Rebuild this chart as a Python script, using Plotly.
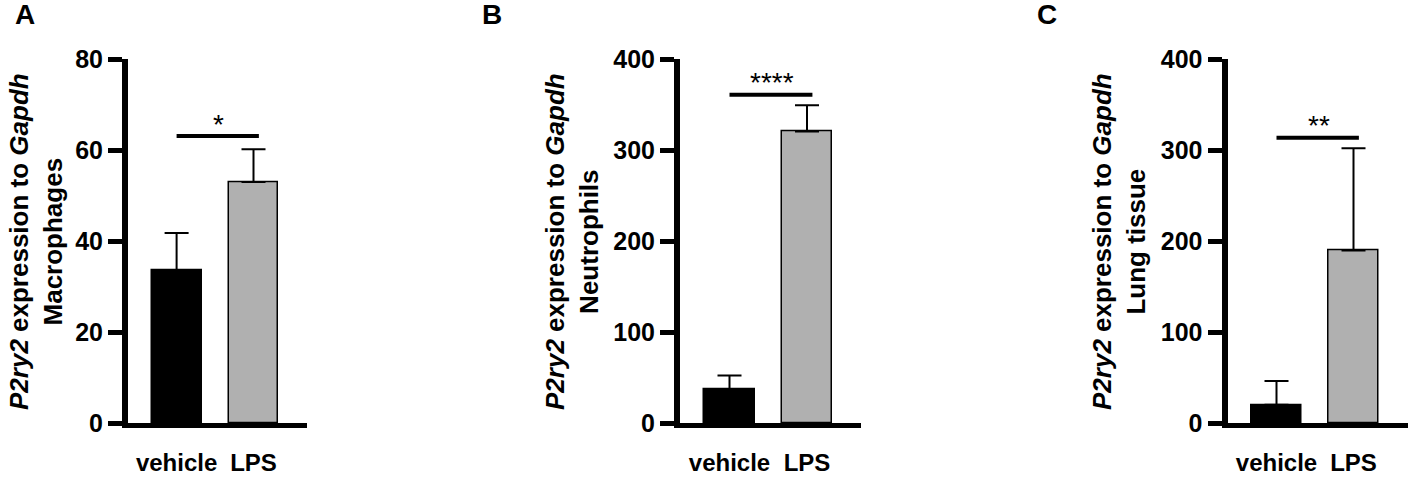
import plotly.graph_objects as go

W, H = 1417, 478

groups = ["vehicle", "LPS"]
panels = ["A", "B", "C"]
cell_types = ["Macrophages", "Neutrophils", "Lung tissue"]

mean_a = [33.5, 53.0]
err_a = [8.3, 7.2]
mean_b = [37.5, 320.5]
err_b = [14.7, 29.0]
mean_c = [20.0, 189.6]
err_c = [26.3, 112.4]

sig_level = [63.1, 361.0, 313.6]
sig_stars = ["*", "****", "**"]
y_max = [80, 400, 400]
y_dtick = [20, 100, 100]

means = [mean_a, mean_b, mean_c]
errs = [err_a, err_b, err_c]

bar_colors = ["#000000", "#b0b0b0"]
FONT = "Liberation Sans, Arial, sans-serif"

# pixel geometry of each panel: axis left, axis right, first bar centre, bar spacing
geom = [(128, 307, 176.6, 76.9), (680, 861, 729.5, 77.5), (1227.5, 1408, 1276.5, 77.0)]
title_x = [36, 572, 1119]
label_x = [25, 492, 1047]
y_top_px, y_bot_px = 59.2, 423.0


def px_x(p):
    return p / W


def px_y(p):
    return (H - p) / H


fig = go.Figure()
for i in range(3):
    xa = "x" if i == 0 else f"x{i + 1}"
    ya = "y" if i == 0 else f"y{i + 1}"
    fig.add_trace(go.Bar(
        x=[0, 1], y=means[i], width=0.65,
        marker=dict(color=bar_colors, line=dict(color="black", width=1.5)),
        error_y=dict(type="data", array=errs[i], arrayminus=[0, 0], symmetric=False,
                     color="black", thickness=2, width=12),
        xaxis=xa, yaxis=ya, showlegend=False,
    ))
    fig.add_trace(go.Scatter(
        x=[0, 1.07], y=[sig_level[i], sig_level[i]], mode="lines",
        line=dict(color="black", width=4), xaxis=xa, yaxis=ya, showlegend=False,
    ))
    fig.add_annotation(
        x=0.55, y=sig_level[i], xref=xa, yref=ya, text=sig_stars[i], showarrow=False,
        yanchor="middle", yshift=12, font=dict(family=FONT, size=28, color="black"),
    )

    x0, x1, c0, sp = geom[i]
    lo = -(c0 - x0) / sp
    hi = 1 + (x1 - (c0 + sp)) / sp
    xkey = "xaxis" if i == 0 else f"xaxis{i + 1}"
    ykey = "yaxis" if i == 0 else f"yaxis{i + 1}"
    fig.update_layout({
        xkey: dict(
            domain=[px_x(x0), px_x(x1)], range=[lo, hi], anchor=ya, automargin=False,
            tickvals=[0, 1], ticktext=groups, ticks="", showgrid=False, zeroline=False,
            showline=True, linecolor="black", linewidth=5, ticklabelstandoff=14,
            tickfont=dict(family=FONT, size=24, color="black", weight="bold"),
        ),
        ykey: dict(
            domain=[px_y(y_bot_px), px_y(y_top_px)], range=[0, y_max[i]], anchor=xa,
            automargin=False,
            dtick=y_dtick[i], ticks="outside", ticklen=14, tickwidth=5, tickcolor="black",
            showgrid=False, zeroline=False, showline=True, linecolor="black", linewidth=6,
            tickfont=dict(family=FONT, size=25, color="black", weight="bold"),
        ),
    })

    fig.add_annotation(
        x=px_x(title_x[i]), y=px_y(242), xref="paper", yref="paper",
        text=f"<i>P2ry2</i> expression to <i>Gapdh</i><br>{cell_types[i]}",
        textangle=-90, showarrow=False, xanchor="center", yanchor="middle",
        font=dict(family=FONT, size=26, color="black", weight="bold"),
    )
    fig.add_annotation(
        x=px_x(label_x[i]), y=px_y(14), xref="paper", yref="paper",
        text=panels[i], showarrow=False, xanchor="center", yanchor="middle",
        font=dict(family=FONT, size=28, color="black", weight="bold"),
    )

fig.update_layout(
    width=W, height=H, margin=dict(l=0, r=0, t=0, b=0, autoexpand=False),
    plot_bgcolor="white", paper_bgcolor="white", bargap=0,
)

# drop the default body margin so the figure sits at the top-left corner of the page
fig.write_html(
    "out.html",
    config={"displayModeBar": False},
    post_script="document.body.style.margin = '0px';",
)
